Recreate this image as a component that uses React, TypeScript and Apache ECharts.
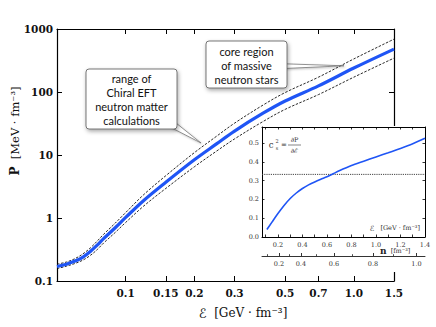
import React, { useEffect, useRef } from 'react';
import * as echarts from 'echarts';

// ---- main panel: pressure vs energy density (log-log) ----
const energy = [0.05, 0.055, 0.06, 0.065, 0.07, 0.075, 0.08, 0.09, 0.1, 0.12, 0.15, 0.2, 0.25, 0.3, 0.4, 0.5, 0.7, 1.0, 1.5];
const pressureCenter = [0.17, 0.185, 0.207, 0.24, 0.295, 0.37, 0.47, 0.7, 1.02, 1.9, 3.7, 8.4, 15, 24, 46, 72, 125, 240, 480];
const pressureUpper = [0.185, 0.2, 0.227, 0.27, 0.335, 0.43, 0.55, 0.83, 1.22, 2.35, 4.7, 10.9, 19.8, 32, 62, 98, 172, 335, 690];
const pressureLower = [0.157, 0.172, 0.19, 0.215, 0.255, 0.315, 0.4, 0.59, 0.85, 1.55, 2.95, 6.5, 11.5, 18, 34, 53, 91, 172, 345];

const xTickValues = [0.1, 0.15, 0.2, 0.3, 0.5, 0.7, 1.0, 1.5];
const xTickLabels = ['0.1', '0.15', '0.2', '0.3', '0.5', '0.7', '1.0', '1.5'];
const yTickValues = [0.1, 1, 10, 100, 1000];
const yTickLabels = ['0.1', '1', '10', '100', '1000'];

// ---- inset: speed of sound squared ----
const insetEnergy = [0.11, 0.15, 0.2, 0.25, 0.3, 0.35, 0.4, 0.45, 0.5, 0.55, 0.6, 0.65, 0.7, 0.8, 0.9, 1.0, 1.1, 1.2, 1.3, 1.4];
const soundSpeedSq = [0.04, 0.078, 0.125, 0.168, 0.205, 0.234, 0.258, 0.277, 0.293, 0.307, 0.32, 0.336, 0.352, 0.38, 0.403, 0.426, 0.448, 0.471, 0.496, 0.525];
const conformalLimit = 0.333;

const insetXTickValues = [0.2, 0.4, 0.6, 0.8, 1.0, 1.2, 1.4];
const insetXTickLabels = ['0.2', '0.4', '0.6', '0.8', '1.0', '1.2', '1.4'];
const insetXMinorTicks = [0.1, 0.2, 0.3, 0.4, 0.5, 0.6, 0.7, 0.8, 0.9, 1.0, 1.1, 1.2, 1.3, 1.4];
const insetYTickValues = [0, 0.1, 0.2, 0.3, 0.4, 0.5];
const insetYTickLabels = ['0.0', '0.1', '0.2', '0.3', '0.4', '0.5'];

// density axis: n values and the energy densities where they sit
const nTickLabels = ['0.2', '0.4', '0.6', '0.8', '1.0'];
const nTickEnergy = [0.208, 0.387, 0.657, 0.975, 1.33];
const nMinorEnergy = [0.115, 0.29, 0.51, 0.81, 1.14];

const SERIF = '"DejaVu Serif", "Liberation Serif", serif';
const SANS = 'Lato, "Open Sans", "Noto Sans", sans-serif';
const BLUE = '#1f55f5';

function pickLabel(values: number[], labels: string[]) {
  return (v: number) => {
    let best = 0;
    for (let i = 1; i < values.length; i++) {
      if (Math.abs(values[i] - v) < Math.abs(values[best] - v)) best = i;
    }
    return labels[best];
  };
}

function txt(x: number, y: number, text: string, o: any = {}) {
  const align = o.align || 'center';
  return {
    type: 'text',
    x,
    y,
    rotation: o.rotation || 0,
    z: 30,
    style: {
      text,
      fill: o.fill || '#111',
      fontSize: o.fontSize || 10,
      fontFamily: o.fontFamily || SERIF,
      fontWeight: o.fontWeight || 'normal',
      fontStyle: o.fontStyle || 'normal',
      lineHeight: o.lineHeight,
      align,
      textAlign: align,
      verticalAlign: 'middle',
      textVerticalAlign: 'middle',
      rich: o.rich,
    },
  };
}

export default function App() {
  const ref = useRef<HTMLDivElement>(null);

  useEffect(() => {
    document.body.style.margin = '0';
    const chart = echarts.init(ref.current!, null, { renderer: 'svg' });

    const mainTickLabel = {
      fontFamily: SERIF,
      fontSize: 10.5,
      fontWeight: 'bold',
      color: '#111',
    };
    const insetLabel = { fontFamily: SERIF, fontSize: 6.5, color: '#333' };
    const blackLine = { color: '#000', width: 1.2 };

    const mainX = (pos: string, showLabel: boolean) => ({
      type: 'log',
      logBase: 10,
      gridIndex: 0,
      position: pos,
      min: 0.05,
      max: 1.5,
      z: 1,
      axisLine: { show: true, onZero: false, lineStyle: blackLine },
      axisTick: { show: true, inside: true, length: 5, customValues: xTickValues, lineStyle: { color: '#000', width: 1 } },
      axisLabel: {
        show: showLabel,
        customValues: xTickValues,
        formatter: pickLabel(xTickValues, xTickLabels),
        margin: 6,
        ...mainTickLabel,
      },
      splitLine: { show: false },
      minorTick: { show: false },
    });
    const mainY = (pos: string, showLabel: boolean) => ({
      type: 'log',
      logBase: 10,
      gridIndex: 0,
      position: pos,
      min: 0.1,
      max: 1000,
      z: 1,
      axisLine: { show: true, onZero: false, lineStyle: blackLine },
      axisTick: { show: true, inside: true, length: 5, customValues: yTickValues, lineStyle: { color: '#000', width: 1 } },
      axisLabel: {
        show: showLabel,
        customValues: yTickValues,
        formatter: pickLabel(yTickValues, yTickLabels),
        margin: 4,
        ...mainTickLabel,
      },
      splitLine: { show: false },
      minorTick: { show: false },
    });

    const insetX = (pos: string, showLabel: boolean) => ({
      type: 'value',
      gridIndex: 1,
      position: pos,
      min: 0.07,
      max: 1.4,
      z: 10,
      axisLine: { show: true, onZero: false, lineStyle: { color: '#000', width: 1 } },
      axisTick: { show: true, inside: true, length: 2.5, customValues: insetXMinorTicks, lineStyle: { color: '#000', width: 0.8 } },
      axisLabel: {
        show: showLabel,
        customValues: insetXTickValues,
        formatter: pickLabel(insetXTickValues, insetXTickLabels),
        margin: 4,
        ...insetLabel,
      },
      splitLine: { show: false },
    });
    const insetY = (pos: string, showLabel: boolean) => ({
      type: 'value',
      gridIndex: 1,
      position: pos,
      min: 0,
      max: 0.585,
      z: 10,
      axisLine: { show: true, onZero: false, lineStyle: { color: '#000', width: 1 } },
      axisTick: { show: true, inside: true, length: 2.5, customValues: insetYTickValues, lineStyle: { color: '#000', width: 0.8 } },
      axisLabel: {
        show: showLabel,
        customValues: insetYTickValues,
        formatter: pickLabel(insetYTickValues, insetYTickLabels),
        margin: 3,
        ...insetLabel,
      },
      splitLine: { show: false },
    });
    const densityAxis = {
      type: 'value',
      gridIndex: 1,
      position: 'bottom',
      offset: 19,
      min: 0.07,
      max: 1.4,
      z: 10,
      axisLine: { show: true, onZero: false, lineStyle: { color: '#000', width: 0.8 } },
      axisTick: { show: true, inside: true, length: 3, customValues: nTickEnergy, lineStyle: { color: '#000', width: 0.8 } },
      axisLabel: {
        show: true,
        customValues: nTickEnergy,
        formatter: pickLabel(nTickEnergy, nTickLabels),
        margin: 4,
        ...insetLabel,
      },
      splitLine: { show: false },
    };
    const densityMinor = {
      type: 'value',
      gridIndex: 1,
      position: 'bottom',
      offset: 19,
      min: 0.07,
      max: 1.4,
      z: 10,
      axisLine: { show: false, onZero: false },
      axisTick: { show: true, inside: true, length: 1.8, customValues: nMinorEnergy, lineStyle: { color: '#000', width: 0.7 } },
      axisLabel: { show: false },
      splitLine: { show: false },
    };

    const callout = (
      rect: { x: number; y: number; width: number; height: number },
      wedge: number[][],
      lines: string,
      cx: number,
      cy: number
    ) => [
      {
        type: 'polygon',
        z: 20,
        shape: { points: wedge },
        style: { fill: '#fff', stroke: '#666', lineWidth: 0.7, shadowBlur: 2, shadowColor: 'rgba(0,0,0,0.25)', shadowOffsetX: 1, shadowOffsetY: 1 },
      },
      {
        type: 'rect',
        z: 21,
        shape: { ...rect, r: 3 },
        style: { fill: '#fff', stroke: '#555', lineWidth: 0.8, shadowBlur: 4, shadowColor: 'rgba(0,0,0,0.35)', shadowOffsetX: 1, shadowOffsetY: 2 },
      },
      {
        type: 'text',
        x: cx,
        y: cy,
        z: 22,
        style: {
          text: lines,
          fill: '#111',
          fontSize: 11,
          fontFamily: SANS,
          fontWeight: 'normal',
          lineHeight: 14,
          align: 'center',
          textAlign: 'center',
          verticalAlign: 'middle',
          textVerticalAlign: 'middle',
        },
      },
    ];

    const option: any = {
      animation: false,
      backgroundColor: '#fff',
      grid: [
        { left: 57, top: 29, width: 337, height: 252, containLabel: false, outerBoundsMode: 'none' },
        { left: 262, top: 127, width: 163, height: 110, containLabel: false, outerBoundsMode: 'none' },
      ],
      xAxis: [mainX('bottom', true), mainX('top', false), insetX('bottom', true), insetX('top', false), densityAxis, densityMinor],
      yAxis: [mainY('left', true), mainY('right', false), insetY('left', true), insetY('right', false)],
      series: [
        {
          type: 'line',
          xAxisIndex: 0,
          yAxisIndex: 0,
          data: energy.map((e, i) => [e, pressureUpper[i]]),
          smooth: 0.35,
          showSymbol: false,
          lineStyle: { color: '#111', width: 0.9, type: [2.5, 1.5] },
          z: 2,
        },
        {
          type: 'line',
          xAxisIndex: 0,
          yAxisIndex: 0,
          data: energy.map((e, i) => [e, pressureLower[i]]),
          smooth: 0.35,
          showSymbol: false,
          lineStyle: { color: '#111', width: 0.9, type: [2.5, 1.5] },
          z: 2,
        },
        {
          type: 'line',
          xAxisIndex: 0,
          yAxisIndex: 0,
          data: energy.map((e, i) => [e, pressureCenter[i]]),
          smooth: 0.35,
          showSymbol: false,
          lineStyle: { color: BLUE, width: 3.2 },
          z: 3,
        },
        {
          type: 'line',
          xAxisIndex: 2,
          yAxisIndex: 2,
          data: [[0.07, conformalLimit], [1.4, conformalLimit]],
          showSymbol: false,
          lineStyle: { color: '#444', width: 1, type: [1.2, 1] },
          z: 11,
        },
        {
          type: 'line',
          xAxisIndex: 2,
          yAxisIndex: 2,
          data: insetEnergy.map((e, i) => [e, soundSpeedSq[i]]),
          smooth: 0.3,
          showSymbol: false,
          lineStyle: { color: BLUE, width: 1.6 },
          z: 12,
        },
      ],
      graphic: [
        // white backdrop of the inset
        { type: 'rect', z: 5, shape: { x: 262, y: 126, width: 174, height: 112 }, style: { fill: '#fff' } },
        { type: 'rect', z: 5, shape: { x: 248, y: 238, width: 188, height: 34 }, style: { fill: '#fff' } },
        // axis titles
        txt(15, 131, '{b|P}  [MeV · fm⁻³]', {
          rotation: Math.PI / 2,
          fontSize: 11.5,
          rich: {
            b: { fontFamily: SERIF, fontSize: 12, fontWeight: 'bold', fill: '#111' },
          },
        }),
        txt(243, 313, '{i|ℰ}  [GeV · fm⁻³]', {
          fontSize: 12,
          rich: {
            i: { fontFamily: '"DejaVu Serif", "DejaVu Sans", serif', fontSize: 13, fontStyle: 'italic', fill: '#111' },
          },
        }),
        // inset titles
        txt(420, 228, '{i|ℰ}   [GeV · fm⁻³]', {
          align: 'right',
          fontSize: 6.5,
          fill: '#333',
          rich: { i: { fontFamily: '"DejaVu Serif", "DejaVu Sans", serif', fontSize: 7.5, fontStyle: 'italic', fill: '#333' } },
        }),
        txt(380, 251, '{b|n}  [fm⁻³]', {
          align: 'left',
          fontSize: 6.5,
          fill: '#333',
          rich: { b: { fontFamily: SERIF, fontSize: 9, fontWeight: 'bold', fill: '#222' } },
        }),
        // c_s^2 = dP/dE
        txt(271, 145, 'c', { fontSize: 8.5, fill: '#333' }),
        txt(277, 140.5, '2', { fontSize: 5, fill: '#333' }),
        txt(277, 148, 's', { fontSize: 5, fill: '#333' }),
        txt(284, 145, '=', { fontSize: 7, fill: '#333' }),
        txt(294.5, 140, '∂P', { fontSize: 6.5, fill: '#333' }),
        { type: 'line', z: 30, shape: { x1: 288, y1: 145, x2: 301, y2: 145 }, style: { stroke: '#333', lineWidth: 0.6 } },
        txt(294.5, 150.5, '∂ℰ', { fontSize: 6.5, fill: '#333' }),
        // callouts
        ...callout(
          { x: 86, y: 69, width: 91, height: 60 },
          [[170, 127], [176, 123], [201, 143]],
          'range of\nChiral EFT\nneutron matter\ncalculations',
          131.5,
          99
        ),
        ...callout(
          { x: 206, y: 41, width: 81, height: 47 },
          [[284, 63.8], [284, 68.5], [344, 65.8]],
          'core region\nof massive\nneutron stars',
          246.5,
          65
        ),
      ],
    };

    chart.setOption(option);
    return () => chart.dispose();
  }, []);

  return <div ref={ref} style={{ width: 436, height: 327 }} />;
}
